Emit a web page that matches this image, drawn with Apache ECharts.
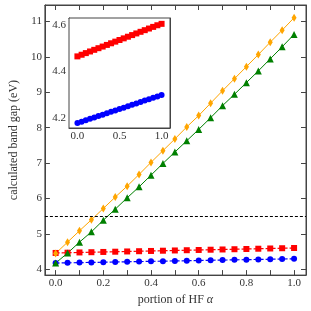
<!DOCTYPE html>
<html><head><meta charset="utf-8">
<script src="https://cdn.jsdelivr.net/npm/echarts@6/dist/echarts.min.js"></script>
<style>html,body{margin:0;padding:0;background:#fff}#c{width:311px;height:311px}</style>
</head><body><div id="c"></div>
<script>
const alpha = [0,0.05,0.1,0.15,0.2,0.25,0.3,0.35,0.4,0.45,0.5,0.55,0.6,0.65,0.7,0.75,0.8,0.85,0.9,0.95,1.0];
const orangeGap = [4.45,4.77,5.09,5.40,5.72,6.04,6.35,6.68,7.02,7.35,7.68,8.02,8.34,8.69,9.04,9.38,9.72,10.06,10.41,10.75,11.10];
const greenGap  = [4.18,4.46,4.77,5.06,5.39,5.70,6.02,6.33,6.66,6.99,7.31,7.63,7.95,8.28,8.62,8.94,9.27,9.60,9.94,10.28,10.63];
const redGap    = [4.465,4.472,4.479,4.486,4.493,4.500,4.507,4.514,4.521,4.528,4.535,4.542,4.549,4.556,4.563,4.570,4.577,4.584,4.591,4.598,4.604];
const blueGap   = [4.180,4.186,4.192,4.198,4.204,4.210,4.216,4.222,4.228,4.234,4.240,4.246,4.252,4.258,4.264,4.270,4.276,4.282,4.288,4.294,4.300];
const refLine = 5.5;
const mainXTicks = [0,0.1,0.2,0.3,0.4,0.5,0.6,0.7,0.8,0.9,1.0];
const mainXLabels = [0,0.2,0.4,0.6,0.8,1.0];
const mainYTicks = [4,5,6,7,8,9,10,11];
const insetXTicks = [0,0.25,0.5,0.75,1.0];
const insetXLabels = [0,0.5,1.0];
const insetYTicks = [4.2,4.3,4.4,4.5,4.6];
const insetYLabels = [4.2,4.4,4.6];

const FONT = 'Liberation Serif';
const AX = '#444';
const pairs = ys => alpha.map((a,i)=>[a,ys[i]]);

function mkAxis(isX, gi, pos, min, max, ticks, labels, showLab, dec, name){
  return {type:'value', gridIndex:gi, position:pos, min:min, max:max,
    axisLine:{show:true, onZero:false, lineStyle:{color:AX, width:1}},
    axisTick:{show:true, inside:true, length:gi===0?5:4, customValues:ticks, lineStyle:{color:AX, width:1}},
    axisLabel:{show:showLab, customValues:labels, margin:3, color:'#333', fontFamily:FONT, fontSize:11,
      formatter:v=>v.toFixed(dec)},
    splitLine:{show:false},
    name:name||'', nameLocation:'middle', nameGap:isX?10:15,
    nameTextStyle:{fontFamily:FONT, fontSize:12, color:'#333',
      rich:{i:{fontFamily:FONT, fontStyle:'italic', fontSize:12, color:'#333'}}}
  };
}

const chart = echarts.init(document.getElementById('c'), null, {renderer:'canvas'});
chart.setOption({
  animation:false,
  backgroundColor:'#fff',
  grid:[
    {left:34, top:5, right:5, bottom:32, show:true, borderColor:AX, borderWidth:1, backgroundColor:'transparent'},
    {left:69, top:18, right:141, bottom:183, show:true, backgroundColor:'#fff', borderColor:AX, borderWidth:1, z:5}
  ],
  xAxis:[
    mkAxis(true,0,'bottom',-0.045,1.05,mainXTicks,mainXLabels,true,1,'portion of HF {i|α}'),
    mkAxis(true,0,'top',-0.045,1.05,mainXTicks,mainXLabels,false,1),
    mkAxis(true,1,'bottom',-0.1,1.1,insetXTicks,insetXLabels,true,1),
    mkAxis(true,1,'top',-0.1,1.1,insetXTicks,insetXLabels,false,1)
  ],
  yAxis:[
    mkAxis(false,0,'left',3.84,11.46,mainYTicks,mainYTicks,true,0,'calculated band gap (eV)'),
    mkAxis(false,0,'right',3.84,11.46,mainYTicks,mainYTicks,false,0),
    mkAxis(false,1,'left',4.159,4.629,insetYTicks,insetYLabels,true,1),
    mkAxis(false,1,'right',4.159,4.629,insetYTicks,insetYLabels,false,1)
  ],
  series:[
    {type:'line', xAxisIndex:0, yAxisIndex:0, data:pairs(blueGap), symbol:'circle', symbolSize:6,
     lineStyle:{color:'#0000ff', width:1.2, type:[4,2]}, itemStyle:{color:'#0000ff'}, z:3,
     markLine:{silent:true, symbol:'none', label:{show:false},
       lineStyle:{color:'#000', width:1, type:[3,2]}, data:[{yAxis:refLine}]}},
    {type:'line', xAxisIndex:0, yAxisIndex:0, data:pairs(redGap), symbol:'rect', symbolSize:6,
     lineStyle:{color:'#ff0000', width:1.2, type:[4,2]}, itemStyle:{color:'#ff0000'}, z:3},
    {type:'line', xAxisIndex:0, yAxisIndex:0, data:pairs(greenGap), symbol:'triangle', symbolSize:7,
     lineStyle:{color:'#008000', width:1}, itemStyle:{color:'#008000'}, z:3},
    {type:'line', xAxisIndex:0, yAxisIndex:0, data:pairs(orangeGap), symbol:'diamond', symbolSize:[5,8],
     lineStyle:{color:'#ffa500', width:1}, itemStyle:{color:'#ffa500'}, z:3},
    {type:'line', xAxisIndex:2, yAxisIndex:2, data:pairs(redGap), symbol:'rect', symbolSize:6,
     lineStyle:{color:'#ff0000', width:1}, itemStyle:{color:'#ff0000'}, z:6},
    {type:'line', xAxisIndex:2, yAxisIndex:2, data:pairs(blueGap), symbol:'circle', symbolSize:6,
     lineStyle:{color:'#0000ff', width:1}, itemStyle:{color:'#0000ff'}, z:6},
    {type:'line', xAxisIndex:1, yAxisIndex:1, data:[], silent:true},
    {type:'line', xAxisIndex:3, yAxisIndex:3, data:[], silent:true}
  ]
});
</script></body></html>
